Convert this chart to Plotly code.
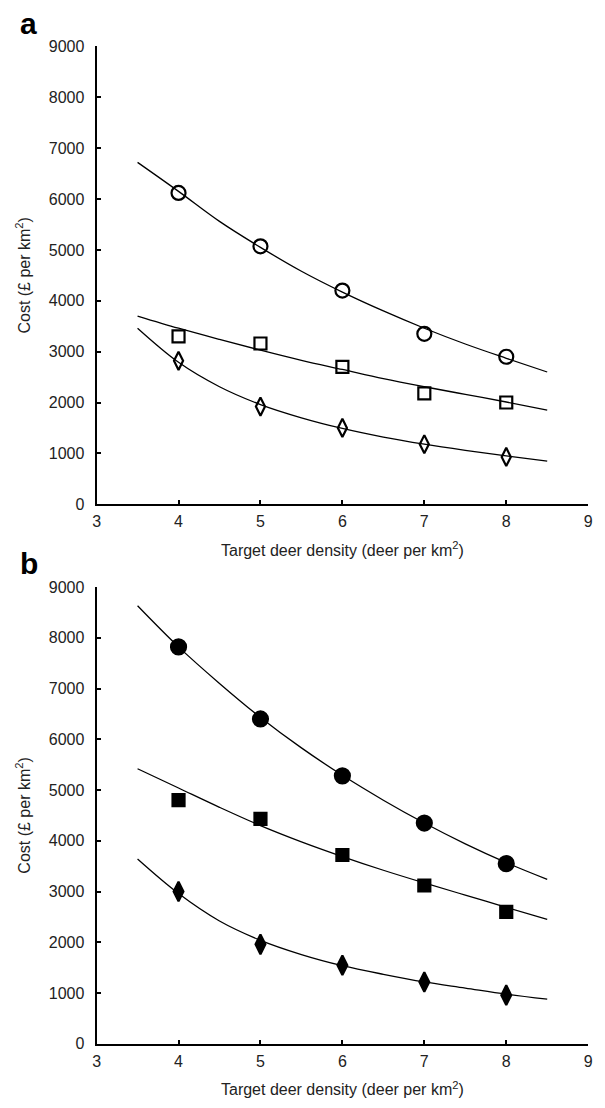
import plotly.graph_objects as go

# Observed data points (target deer density, cost £ per km²)
density = [4, 5, 6, 7, 8]

# Panel a (open markers)
a_circle = [6120, 5070, 4200, 3350, 2900]
a_square = [3300, 3160, 2700, 2180, 2000]
a_diamond = [2820, 1920, 1500, 1180, 930]

# Panel b (filled markers)
b_circle = [7820, 6400, 5280, 4350, 3550]
b_square = [4800, 4430, 3720, 3120, 2600]
b_diamond = [3000, 1960, 1550, 1220, 960]

# Fitted curves
curve_x = [3.5, 4, 4.5, 5, 5.5, 6, 6.5, 7, 7.5, 8, 8.5]
a_circle_fit = [6720, 6150, 5560, 5050, 4580, 4170, 3800, 3460, 3150, 2870, 2600]
a_square_fit = [3700, 3460, 3240, 3030, 2830, 2650, 2470, 2310, 2160, 2010, 1850]
a_diamond_fit = [3460, 2790, 2310, 1960, 1700, 1490, 1320, 1180, 1060, 950, 850]
b_circle_fit = [8630, 7820, 7100, 6430, 5830, 5290, 4800, 4350, 3940, 3570, 3240]
b_square_fit = [5420, 5040, 4660, 4300, 3980, 3690, 3420, 3170, 2930, 2690, 2450]
b_diamond_fit = [3640, 2960, 2420, 2040, 1760, 1540, 1370, 1220, 1100, 980, 880]

x_ticks = [3, 4, 5, 6, 7, 8, 9]
y_ticks = [0, 1000, 2000, 3000, 4000, 5000, 6000, 7000, 8000, 9000]

W, H = 605, 1108
FONT = "Liberation Sans, Arial, Helvetica, sans-serif"

fig = go.Figure()

def add_panel(xa, ya, fits, points):
    for fy in fits:
        fig.add_trace(go.Scatter(x=curve_x, y=fy, mode="lines", line=dict(color="black", width=1.3, shape="spline"),
                                 xaxis=xa, yaxis=ya, showlegend=False, hoverinfo="skip"))
    for py, sym, size, lw in points:
        fig.add_trace(go.Scatter(x=density, y=py, mode="markers",
                                 marker=dict(symbol=sym, size=size, color="black",
                                             line=dict(color="black", width=lw)),
                                 xaxis=xa, yaxis=ya, showlegend=False))

add_panel("x", "y", [a_circle_fit, a_square_fit, a_diamond_fit],
          [(a_circle, "circle-open", 14, 2.2), (a_square, "square-open", 12, 2.2),
           (a_diamond, "diamond-tall-open", 13, 2.2)])
add_panel("x2", "y2", [b_circle_fit, b_square_fit, b_diamond_fit],
          [(b_circle, "circle", 15, 2.2), (b_square, "square", 12, 2.2),
           (b_diamond, "diamond-tall", 14, 2.2)])

xdom = [94 / W, 593 / W]
ya_dom = [(H - 504) / H, (H - 39) / H]
yb_dom = [(H - 1052) / H, (H - 588) / H]

axis_common = dict(showline=True, linecolor="black", linewidth=2, ticks="inside", ticklen=4,
                   tickwidth=2, tickcolor="black", showgrid=False, zeroline=False,
                   tickfont=dict(family=FONT, size=16, color="#222"), mirror=False)

xtitle = "Target deer density (deer per km<sup>2</sup>)"
ytitle = "Cost (£ per km<sup>2</sup>)"

fig.update_layout(
    width=W, height=H, margin=dict(l=0, r=0, t=0, b=0),
    paper_bgcolor="white", plot_bgcolor="white",
    font=dict(family=FONT, color="#222"),
    xaxis=dict(domain=xdom, range=[3, 9], tickvals=x_ticks, anchor="y", ticklabelstandoff=2,
               title=dict(text=xtitle, font=dict(size=16), standoff=15), **axis_common),
    yaxis=dict(domain=ya_dom, range=[0, 9000], tickvals=y_ticks, anchor="x", ticklabelstandoff=7,
               title=dict(text=ytitle, font=dict(size=16), standoff=14), **axis_common),
    xaxis2=dict(domain=xdom, range=[3, 9], tickvals=x_ticks, anchor="y2", ticklabelstandoff=2,
                title=dict(text=xtitle, font=dict(size=16), standoff=15), **axis_common),
    yaxis2=dict(domain=yb_dom, range=[0, 9000], tickvals=y_ticks, anchor="x2", ticklabelstandoff=7,
                title=dict(text=ytitle, font=dict(size=16), standoff=14), **axis_common),
    annotations=[
        dict(text="<b>a</b>", x=14 / W, y=1 - 16 / H, xref="paper", yref="paper",
             xanchor="left", yanchor="middle", showarrow=False, font=dict(size=30, color="black")),
        dict(text="<b>b</b>", x=14 / W, y=1 - 564 / H, xref="paper", yref="paper",
             xanchor="left", yanchor="middle", showarrow=False, font=dict(size=30, color="black")),
    ],
)

fig.write_html("out.html", config={"displayModeBar": False},
               post_script="document.body.style.margin='0';document.body.style.overflow='hidden';")
